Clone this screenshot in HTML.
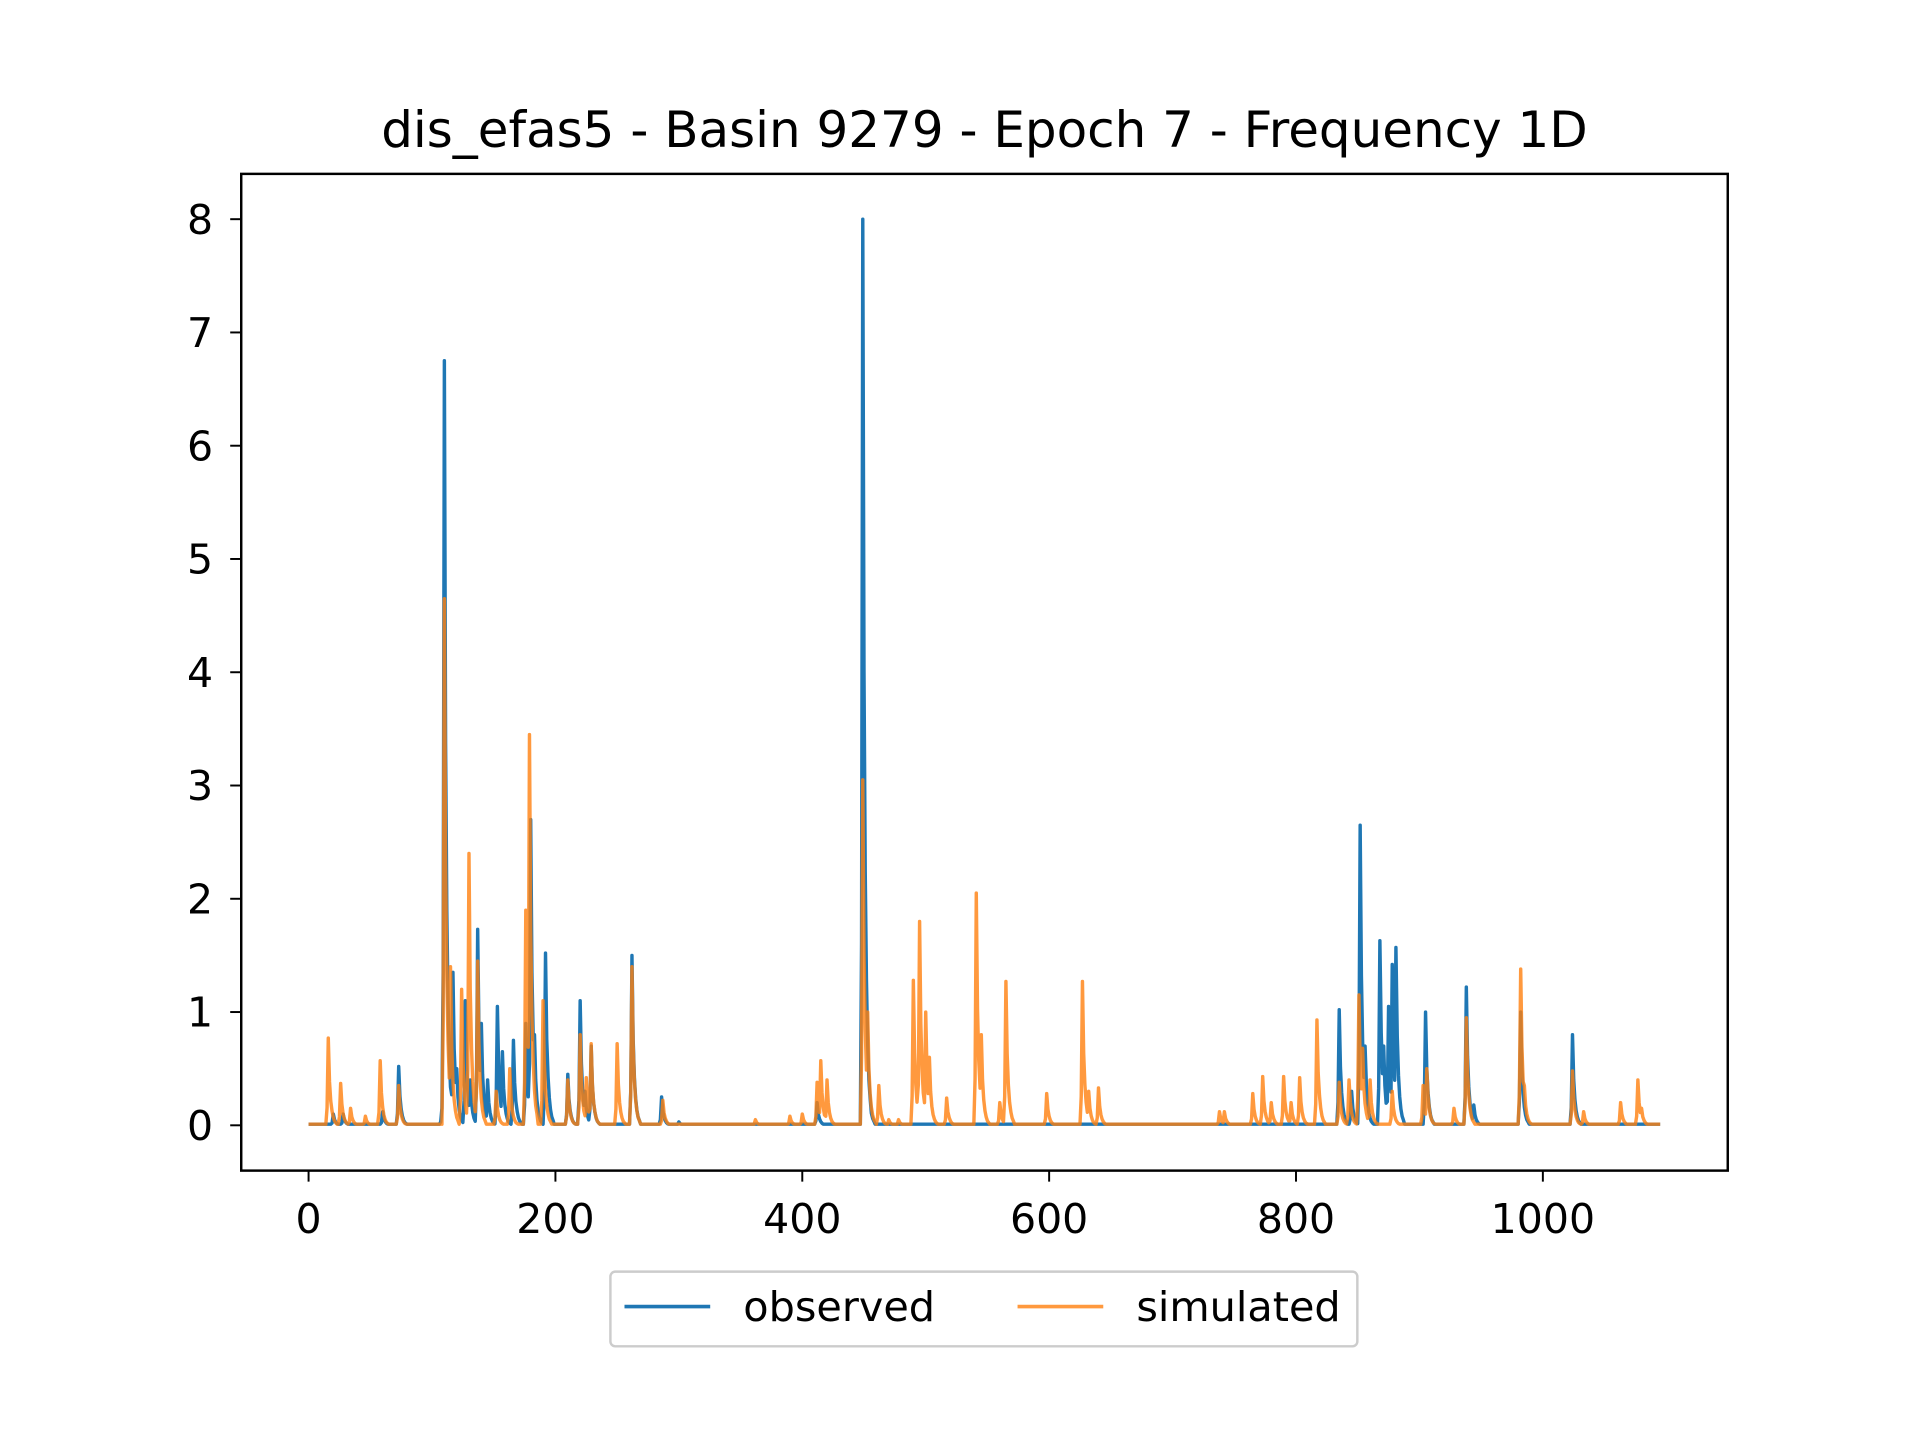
<!DOCTYPE html>
<html><head><meta charset="utf-8"><style>
html,body{margin:0;padding:0;background:#fff;}
svg{display:block;font-family:"DejaVu Sans","Liberation Sans",sans-serif;}
</style></head><body>
<svg id="chart" width="1920" height="1440" viewBox="0 0 1568 1176" xmlns="http://www.w3.org/2000/svg">
<rect width="1568" height="1176" fill="#fff"/>
<text x="804" y="120" font-size="40.8" text-anchor="middle" fill="#000">dis_efas5 - Basin 9279 - Epoch 7 - Frequency 1D</text>
<g id="series"></g>
<rect x="197" y="142" width="1214" height="814" fill="none" stroke="#000" stroke-width="2"/>
<g id="axes"></g>
<g>
<rect x="498.5" y="1038.5" width="610" height="61" rx="4" fill="#fff" stroke="#ccc" stroke-width="2"/>
<line x1="510" y1="1067" x2="580" y2="1067" stroke="#1f77b4" stroke-width="3"/>
<text x="607" y="1079" font-size="33.8">observed</text>
<line x1="831" y1="1067" x2="901" y2="1067" stroke="#ff7f0e" stroke-opacity="0.8" stroke-width="3"/>
<text x="928" y="1079" font-size="33.8">simulated</text>
</g>
</svg>
<script>
const nDays = 1096;
const xTicks = [0,200,400,600,800,1000];
const yTicks = [0,1,2,3,4,5,6,7,8];
const obsDays = [20,28,60,73,108,110,117,120,127,131,137,140,145,153,157,166,176,180,183,192,210,220,224,229,262,286,300,412,449,452,835,845,852,856,868,871,875,878,881,905,938,944,982,1024];
const obsVals = [0.1,0.1,0.12,0.52,0.15,6.75,1.35,0.5,1.1,0.4,1.73,0.9,0.4,1.05,0.65,0.75,0.9,2.7,0.8,1.52,0.45,1.1,0.3,0.7,1.5,0.25,0.03,0.2,8.0,1.2,1.02,0.3,2.65,0.7,1.63,0.7,1.05,1.42,1.57,1.0,1.22,0.18,1.0,0.8];
const simDays = [16,26,34,46,58,73,110,115,124,130,137,152,163,176,179,190,210,220,225,229,250,262,287,362,390,400,412,415,420,449,453,462,470,478,490,495,500,503,517,541,545,560,565,598,627,632,640,738,742,765,773,780,790,796,803,817,835,843,851,854,860,878,903,906,928,938,982,985,1024,1033,1063,1077,1080];
const simVals = [0.77,0.37,0.15,0.08,0.57,0.35,4.65,1.4,1.2,2.4,1.45,0.3,0.5,1.9,3.45,1.1,0.4,0.8,0.42,0.72,0.72,1.4,0.22,0.05,0.08,0.1,0.38,0.57,0.4,3.05,1.0,0.35,0.05,0.05,1.28,1.8,1.0,0.6,0.24,2.05,0.8,0.2,1.27,0.28,1.27,0.3,0.33,0.12,0.12,0.28,0.43,0.2,0.43,0.2,0.42,0.93,0.38,0.4,1.15,0.68,0.4,0.3,0.35,0.5,0.15,0.95,1.38,0.35,0.48,0.12,0.2,0.4,0.15];

const X0=252, XS=1.008, Y0=919, YS=92.5;
function xs(d){return X0+d*XS;}
function ys(v){return Y0-v*YS;}
const NS='http://www.w3.org/2000/svg';

function daily(days, vals){
  const a=new Array(nDays).fill(0.01);
  const decay=[1,0.5,0.28,0.16,0.09,0.05,0.03];
  days.forEach((d,i)=>{
    if(d-1>=0) a[d-1]=Math.max(a[d-1],vals[i]*0.2);
    for(let k=0;k<decay.length;k++){
      const j=d+k; if(j<nDays) a[j]=Math.max(a[j],vals[i]*decay[k]);
    }
  });
  return a;
}
function drawSeries(arr,color,op,name){
  const p=document.createElementNS(NS,'polyline');
  p.setAttribute('points',arr.map((v,i)=>xs(i).toFixed(1)+','+ys(v).toFixed(1)).join(' '));
  p.setAttribute('fill','none');p.setAttribute('stroke',color);
  p.setAttribute('stroke-opacity',op);p.setAttribute('stroke-width','2.8');
  p.setAttribute('stroke-linejoin','round');
  
  
  document.getElementById('series').appendChild(p);
}
drawSeries(daily(obsDays,obsVals),'#1f77b4','1','observed-line');
drawSeries(daily(simDays,simVals),'#ff7f0e','0.8','simulated-line');

const ax=document.getElementById('axes');
xTicks.forEach(t=>{
  const l=document.createElementNS(NS,'line');
  l.setAttribute('x1',xs(t));l.setAttribute('x2',xs(t));l.setAttribute('y1',956);l.setAttribute('y2',965);
  l.setAttribute('stroke','#000');l.setAttribute('stroke-width','1.6');
  
  
  ax.appendChild(l);
  const tx=document.createElementNS(NS,'text');
  tx.setAttribute('x',xs(t));tx.setAttribute('y',1007);tx.setAttribute('font-size','33.5');tx.setAttribute('text-anchor','middle');
  tx.textContent=t;
  
  
  ax.appendChild(tx);
});
yTicks.forEach(t=>{
  const l=document.createElementNS(NS,'line');
  l.setAttribute('x1',188);l.setAttribute('x2',197);l.setAttribute('y1',ys(t));l.setAttribute('y2',ys(t));
  l.setAttribute('stroke','#000');l.setAttribute('stroke-width','1.6');
  
  
  ax.appendChild(l);
  const tx=document.createElementNS(NS,'text');
  tx.setAttribute('x',174);tx.setAttribute('y',ys(t)+12);tx.setAttribute('font-size','33.5');tx.setAttribute('text-anchor','end');
  tx.textContent=t;
  
  
  ax.appendChild(tx);
});
</script>
</body></html>
